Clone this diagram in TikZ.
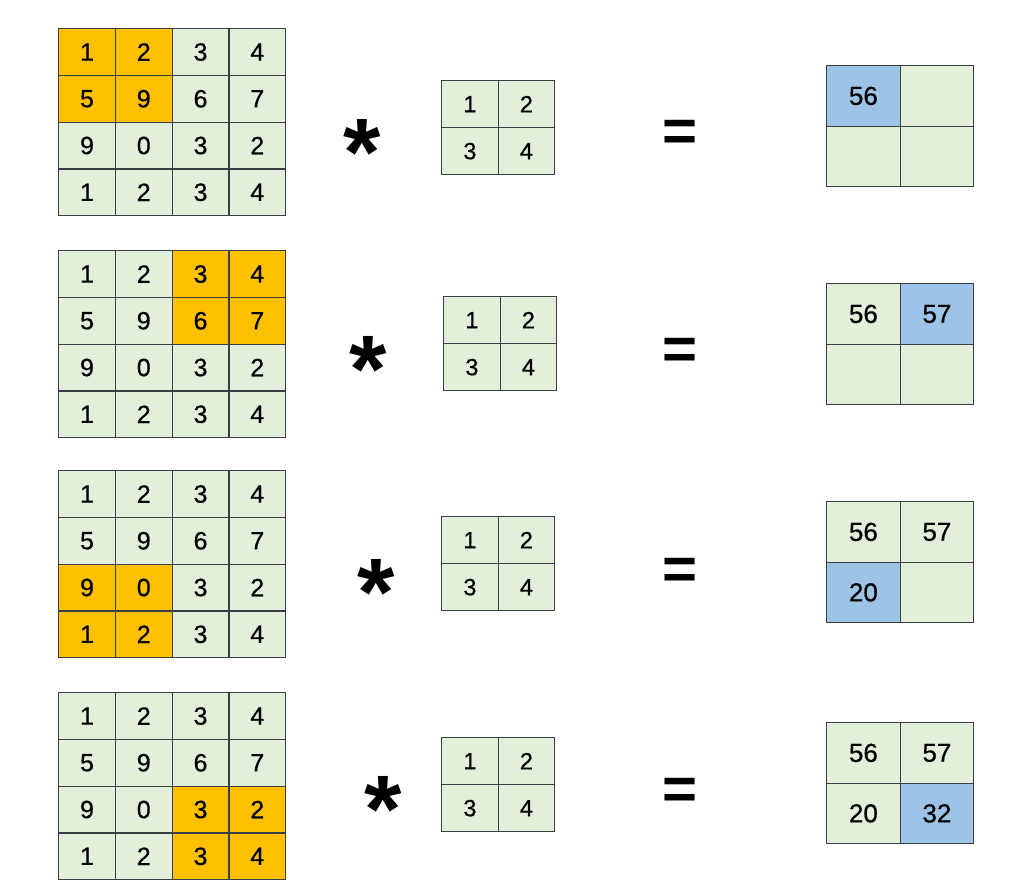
\documentclass[tikz,border=0pt]{standalone}
\usepackage{fontspec}
\setmainfont{Liberation Sans}
\newfontfamily\cellfont{Liberation Sans}[FakeBold=0.6]
\definecolor{cellgreen}{HTML}{E2EFDA}
\definecolor{orangec}{HTML}{FFC000}
\definecolor{bluec}{HTML}{9DC3E6}
\definecolor{bordc}{HTML}{3A3F44}
\tikzset{
  gridcell/.style={draw=bordc, line width=1.3pt, fill=cellgreen, inner sep=0pt, anchor=north west},
  bigcell/.style={gridcell, minimum width=56.75pt, minimum height=46.75pt, font=\cellfont\fontsize{25}{25}\selectfont},
  kercell/.style={gridcell, minimum width=56.5pt, minimum height=47pt, font=\cellfont\fontsize{23.5}{23.5}\selectfont},
  outcell/.style={gridcell, minimum width=73.5pt, minimum height=60.5pt, font=\cellfont\fontsize{26}{26}\selectfont},
  opsym/.style={inner sep=0pt, font=\fontsize{96}{96}\selectfont\bfseries},
  eqsym/.style={inner sep=0pt, font=\fontsize{60}{60}\selectfont\bfseries},
}
\newcommand\bigmat[4]{%
  \foreach \r/\c/\v in {1/1/1,1/2/2,1/3/3,1/4/4,2/1/5,2/2/9,2/3/6,2/4/7,3/1/9,3/2/0,3/3/3,3/4/2,4/1/1,4/2/2,4/3/3,4/4/4}{
    \pgfmathtruncatemacro\hl{and(and(\r>=#3,\r<=#3+1),and(\c>=#4,\c<=#4+1))}
    \ifnum\hl=1 \def\fc{orangec}\else\def\fc{cellgreen}\fi
    \node[bigcell, fill=\fc] (#1-\r-\c) at ({58+(\c-1)*56.75}, {#2+(\r-1)*46.75}) {\v};
  }}
\newcommand\kermat[3]{%
  \foreach \r/\c/\v in {1/1/1,1/2/2,2/1/3,2/2/4}{
    \node[kercell] (#1-\r-\c) at ({#2+(\c-1)*56.5}, {#3+(\r-1)*47}) {\v};
  }}
\newcommand\outmat[7]{% name, y, highlight index, four values
  \foreach \i/\r/\c/\v in {1/1/1/#4,2/1/2/#5,3/2/1/#6,4/2/2/#7}{
    \ifnum\i=#3 \def\fc{bluec}\else\def\fc{cellgreen}\fi
    \node[outcell, fill=\fc] (#1-\r-\c) at ({826+(\c-1)*73.5}, {#2+(\r-1)*60.5}) {\v};
  }}
\begin{document}
\begin{tikzpicture}[x=1pt,y=-1pt]
\useasboundingbox (0,0) rectangle (1036,895);
% block 1
\bigmat{a}{28}{1}{1}
\node[opsym] (sa) at (362,152) {*};
\kermat{ka}{441}{80}
\node[eqsym] (ea) at (680,136) {=};
\outmat{oa}{65}{1}{56}{}{}{}
% block 2
\bigmat{b}{250}{1}{3}
\node[opsym] (sb) at (368,369) {*};
\kermat{kb}{443}{296}
\node[eqsym] (eb) at (680,354) {=};
\outmat{ob}{283}{2}{56}{57}{}{}
% block 3
\bigmat{c}{470}{3}{1}
\node[opsym] (sc) at (376,592) {*};
\kermat{kc}{441}{516}
\node[eqsym] (ec) at (680,574) {=};
\outmat{oc}{501}{3}{56}{57}{20}{}
% block 4
\bigmat{d}{692}{3}{3}
\node[opsym] (sd) at (383,809) {*};
\kermat{kd}{441}{737}
\node[eqsym] (ed) at (680,794) {=};
\outmat{od}{722}{4}{56}{57}{20}{32}
\end{tikzpicture}
\end{document}
